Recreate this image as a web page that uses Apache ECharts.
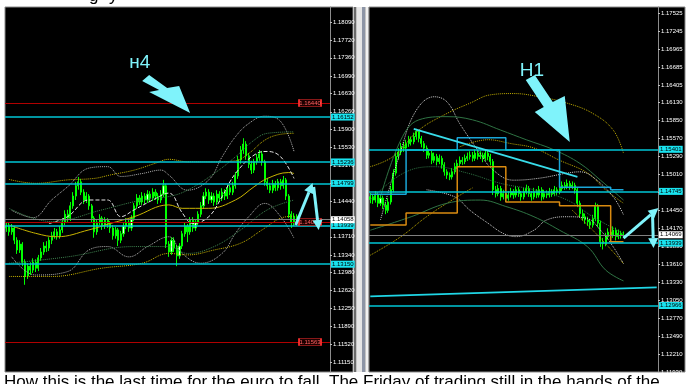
<!DOCTYPE html>
<html><head><meta charset="utf-8">
<script src="https://cdn.jsdelivr.net/npm/echarts@6/dist/echarts.min.js"></script>
<style>html,body{margin:0;padding:0;background:#fff}#c{width:689px;height:384px}</style>
</head><body><div id="c"></div>
<script>
// ================= H4 panel (left) =================
const h4Ticks = [1.18090,1.17720,1.17360,1.16990,1.16630,1.16260,1.15900,1.15530,1.15170,1.14800,1.14440,1.14070,1.13710,1.13340,1.12980,1.12620,1.12250,1.11890,1.11520,1.11150];
const h4Min = 1.10951, h4Max = 1.18397;
const h4Open0 = 1.1389;
const h4Close = [1.1393,1.1381,1.1389,1.1364,1.1344,1.1356,1.1319,1.1291,1.1311,1.1303,
 1.1319,1.1307,1.1328,1.1340,1.1352,1.1348,1.1364,1.1373,1.1381,1.1373,
 1.1385,1.1401,1.1417,1.1409,1.1434,1.1454,1.1475,1.1483,1.1462,1.1446,
 1.1454,1.1434,1.1409,1.1381,1.1401,1.1409,1.1393,1.1405,1.1397,1.1389,
 1.1373,1.1385,1.1364,1.1377,1.1393,1.1401,1.1389,1.1409,1.1434,1.1450,
 1.1442,1.1454,1.1446,1.1458,1.1450,1.1462,1.1454,1.1446,1.1458,1.1475,
 1.1356,1.1340,1.1364,1.1348,1.1332,1.1352,1.1377,1.1393,1.1381,1.1405,
 1.1389,1.1401,1.1417,1.1434,1.1454,1.1462,1.1446,1.1454,1.1442,1.1458,
 1.1450,1.1462,1.1454,1.1471,1.1462,1.1475,1.1495,1.1528,1.1548,1.1560,
 1.1536,1.1519,1.1507,1.1524,1.1532,1.1540,1.1524,1.1483,1.1475,1.1466,
 1.1479,1.1471,1.1483,1.1475,1.1487,1.1454,1.1417,1.1401,1.1413,1.1407];
const h4High = [1.1401,1.1399,1.1397,1.1393,1.1370,1.1364,1.1360,1.1325,1.1317,1.1319,
 1.1327,1.1325,1.1334,1.1348,1.1360,1.1362,1.1370,1.1381,1.1389,1.1387,
 1.1393,1.1409,1.1425,1.1426,1.1442,1.1462,1.1483,1.1493,1.1489,1.1468,
 1.1462,1.1458,1.1438,1.1413,1.1407,1.1417,1.1413,1.1411,1.1409,1.1403,
 1.1395,1.1391,1.1389,1.1383,1.1399,1.1409,1.1405,1.1415,1.1440,1.1458,
 1.1456,1.1462,1.1460,1.1466,1.1464,1.1470,1.1468,1.1460,1.1466,1.1487,
 1.1479,1.1362,1.1370,1.1370,1.1354,1.1358,1.1383,1.1399,1.1397,1.1411,
 1.1411,1.1407,1.1423,1.1442,1.1462,1.1470,1.1468,1.1462,1.1460,1.1466,
 1.1464,1.1470,1.1468,1.1477,1.1477,1.1483,1.1503,1.1536,1.1556,1.1572,
 1.1566,1.1542,1.1526,1.1530,1.1540,1.1548,1.1546,1.1528,1.1491,1.1481,
 1.1487,1.1485,1.1489,1.1489,1.1495,1.1491,1.1458,1.1423,1.1419,1.1417];
const h4Low = [1.1381,1.1373,1.1375,1.1356,1.1336,1.1338,1.1311,1.1273,1.1285,1.1293,
 1.1297,1.1299,1.1301,1.1322,1.1334,1.1340,1.1342,1.1356,1.1367,1.1365,
 1.1367,1.1379,1.1395,1.1399,1.1403,1.1428,1.1446,1.1467,1.1456,1.1438,
 1.1440,1.1426,1.1401,1.1369,1.1375,1.1395,1.1385,1.1387,1.1389,1.1379,
 1.1365,1.1367,1.1352,1.1358,1.1371,1.1387,1.1381,1.1383,1.1403,1.1428,
 1.1436,1.1436,1.1438,1.1440,1.1442,1.1444,1.1446,1.1438,1.1440,1.1452,
 1.1348,1.1330,1.1334,1.1340,1.1311,1.1326,1.1346,1.1371,1.1360,1.1375,
 1.1381,1.1383,1.1395,1.1411,1.1428,1.1448,1.1438,1.1440,1.1434,1.1436,
 1.1442,1.1444,1.1446,1.1448,1.1456,1.1456,1.1469,1.1489,1.1520,1.1540,
 1.1528,1.1511,1.1499,1.1501,1.1518,1.1526,1.1516,1.1475,1.1467,1.1460,
 1.1460,1.1464,1.1465,1.1467,1.1469,1.1446,1.1409,1.1389,1.1393,1.1399];
const h4CategoryCount = 122;
const h4Cyan = [1.16152,1.15236,1.14799,1.13939,1.13150];
const h4Red = [1.16440,1.14010,1.11563];
const h4Last = 1.14058;
// indicator envelopes [index, price]
const h4BandUpY = [[1,1.1488],[11,1.1480],[23,1.1487],[33,1.1490],[39,1.1497],[48,1.1507],[56,1.1521],[61,1.1529],[68,1.1524],[78,1.1524],[86,1.1526],[91,1.1541],[97,1.1568],[102,1.1579],[108,1.1582]];
const h4MidY = [[1,1.1395],[11,1.1378],[19,1.1371],[31,1.1385],[39,1.1398],[48,1.1412],[61,1.1436],[66,1.1429],[76,1.1429],[86,1.1446],[93,1.1473],[98,1.1490],[106,1.1502],[108,1.1500]];
const h4BandLowY = [[1,1.1290],[17,1.1290],[36,1.1307],[51,1.1317],[61,1.1337],[68,1.1334],[78,1.1344],[88,1.1358],[96,1.1385],[103,1.1409],[108,1.1413]];
const h4BandUpG = [[2,1.1425],[10,1.1410],[17,1.1446],[23,1.1473],[31,1.1511],[38,1.1514],[43,1.1494],[51,1.1500],[58,1.1507],[61,1.1497],[68,1.1466],[76,1.1487],[81,1.1534],[86,1.1575],[91,1.1602],[97,1.1617],[103,1.1606],[108,1.1545]];
const h4BandLowG = [[2,1.1330],[11,1.1293],[23,1.1300],[31,1.1344],[38,1.1351],[46,1.1330],[53,1.1351],[61,1.1371],[66,1.1337],[73,1.1317],[81,1.1337],[86,1.1378],[91,1.1412],[97,1.1439],[103,1.1412],[108,1.1368]];
const h4MidW = [[16,1.1398],[23,1.1412],[31,1.1446],[38,1.1446],[43,1.1412],[48,1.1426],[55,1.1446],[61,1.1460],[66,1.1420],[70,1.1398],[76,1.1412],[81,1.1453],[86,1.1500],[94,1.1541],[98,1.1545],[103,1.1534],[108,1.1490]];
const h4BandUpD = [[1,1.1429],[17,1.1402],[36,1.1426],[51,1.1446],[61,1.1453],[68,1.1466],[78,1.1500],[86,1.1534],[93,1.1568],[98,1.1582],[108,1.1585]];
const h4BandLowD = [[1,1.1317],[23,1.1330],[48,1.1351],[61,1.1351],[68,1.1337],[78,1.1351],[88,1.1385],[98,1.1426],[108,1.1446]];

// ================= H1 panel (right) =================
const h1Ticks = [1.17525,1.17245,1.16965,1.16685,1.16405,1.16130,1.15850,1.15570,1.15290,1.15010,1.14730,1.14450,1.14170,1.13890,1.13610,1.13330,1.13050,1.12770,1.12490,1.12210,1.11930];
const h1Min = 1.11930, h1Max = 1.17619;
const h1Open0 = 1.1462;
const h1Close = [1.1466,1.1461,1.1469,1.1456,1.1464,1.1453,1.1445,1.1458,1.1477,1.1503,
 1.1529,1.1536,1.1544,1.1542,1.1549,1.1555,1.1552,1.1560,1.1568,1.1557,
 1.1549,1.1542,1.1531,1.1534,1.1523,1.1529,1.1521,1.1526,1.1516,1.1505,
 1.1500,1.1497,1.1505,1.1513,1.1518,1.1523,1.1521,1.1526,1.1529,1.1531,
 1.1526,1.1534,1.1529,1.1531,1.1526,1.1534,1.1529,1.1521,1.1477,1.1471,
 1.1479,1.1466,1.1471,1.1464,1.1469,1.1474,1.1469,1.1477,1.1471,1.1466,
 1.1474,1.1479,1.1471,1.1466,1.1474,1.1469,1.1477,1.1466,1.1471,1.1469,
 1.1474,1.1471,1.1477,1.1474,1.1479,1.1484,1.1482,1.1487,1.1482,1.1484,
 1.1477,1.1456,1.1440,1.1435,1.1430,1.1427,1.1422,1.1432,1.1451,1.1425,
 1.1396,1.1393,1.1404,1.1411,1.1406,1.1414,1.1404,1.1409,1.1406,1.1407];
const h1High = [1.1472,1.1470,1.1475,1.1473,1.1470,1.1468,1.1457,1.1464,1.1483,1.1509,
 1.1535,1.1542,1.1550,1.1551,1.1555,1.1561,1.1560,1.1566,1.1572,1.1570,
 1.1561,1.1553,1.1546,1.1540,1.1538,1.1535,1.1533,1.1532,1.1530,1.1520,
 1.1509,1.1504,1.1511,1.1519,1.1524,1.1529,1.1528,1.1532,1.1535,1.1537,
 1.1536,1.1540,1.1539,1.1537,1.1535,1.1540,1.1538,1.1533,1.1525,1.1483,
 1.1485,1.1483,1.1477,1.1475,1.1475,1.1480,1.1478,1.1483,1.1481,1.1475,
 1.1480,1.1485,1.1483,1.1475,1.1480,1.1478,1.1483,1.1481,1.1477,1.1476,
 1.1480,1.1478,1.1483,1.1481,1.1485,1.1490,1.1489,1.1493,1.1491,1.1490,
 1.1488,1.1481,1.1460,1.1446,1.1440,1.1435,1.1431,1.1438,1.1457,1.1455,
 1.1429,1.1402,1.1410,1.1417,1.1415,1.1420,1.1418,1.1415,1.1413,1.1412];
const h1Low = [1.1456,1.1455,1.1457,1.1450,1.1452,1.1447,1.1439,1.1441,1.1454,1.1473,
 1.1499,1.1524,1.1531,1.1536,1.1537,1.1544,1.1546,1.1548,1.1555,1.1551,
 1.1543,1.1536,1.1525,1.1526,1.1517,1.1519,1.1515,1.1517,1.1510,1.1499,
 1.1494,1.1492,1.1493,1.1501,1.1509,1.1514,1.1516,1.1517,1.1522,1.1524,
 1.1521,1.1522,1.1524,1.1525,1.1520,1.1522,1.1523,1.1515,1.1469,1.1465,
 1.1467,1.1460,1.1462,1.1458,1.1460,1.1465,1.1463,1.1465,1.1466,1.1460,
 1.1462,1.1470,1.1466,1.1460,1.1462,1.1464,1.1465,1.1460,1.1462,1.1464,
 1.1465,1.1466,1.1467,1.1469,1.1470,1.1475,1.1477,1.1478,1.1477,1.1478,
 1.1471,1.1450,1.1434,1.1429,1.1424,1.1421,1.1416,1.1418,1.1428,1.1419,
 1.1388,1.1384,1.1389,1.1400,1.1400,1.1402,1.1398,1.1400,1.1401,1.1402];
const h1CategoryCount = 113;
const h1Cyan = [1.15401,1.14745,1.13939,1.12966];
const h1Last = 1.14069;
const h1ArcY = [[0,1.1513],[9,1.1529],[19,1.1570],[30,1.1596],[39,1.1612],[47,1.1625],[56,1.1627],[66,1.1622],[77,1.1612],[87,1.1596],[95,1.1570],[99,1.1534]];
const h1LowY = [[0,1.1375],[12,1.1404],[22,1.1435],[34,1.1466],[40,1.1480]];
const h1MidY = [[35,1.1544],[46,1.1555],[55,1.1549],[64,1.1542],[74,1.1523],[85,1.1503],[92,1.1477],[99,1.1456]];
const h1LowY2 = [[79,1.1445],[87,1.1414],[95,1.1380],[99,1.1362]];
const h1UpW = [[4,1.1430],[12,1.1539],[18,1.1601],[25,1.1622],[30,1.1614],[35,1.1580],[42,1.1539],[48,1.1508],[56,1.1492],[66,1.1495],[77,1.1503],[82,1.1505],[87,1.1497],[95,1.1466],[99,1.1438]];
const h1LowW = [[22,1.1477],[33,1.1466],[39,1.1445],[46,1.1425],[52,1.1409],[57,1.1404],[64,1.1414],[69,1.1430],[77,1.1435],[85,1.1432],[90,1.1414],[95,1.1388],[99,1.1362]];
const h1UpD = [[4,1.1466],[12,1.1555],[19,1.1586],[30,1.1591],[40,1.1586],[51,1.1570],[61,1.1555],[72,1.1539],[82,1.1518],[90,1.1492],[99,1.1461]];
const h1LowD = [[0,1.1414],[16,1.1435],[30,1.1456],[43,1.1461],[53,1.1451],[64,1.1435],[74,1.1414],[85,1.1388],[92,1.1352],[99,1.1335]];
const h1MidD = [[0,1.1461],[13,1.1503],[25,1.1513],[38,1.1503],[51,1.1487],[64,1.1477],[77,1.1461],[87,1.1435],[99,1.1409]];
const h1StepBlue = [[0,1.1470],[14,1.1539],[34,1.1558],[53,1.1539],[74,1.1481],[94,1.1477],[99,1.1477]];
const h1StepOrange = [[0,1.1422],[14,1.1441],[34,1.1513],[53,1.1458],[74,1.1452],[94,1.1396],[99,1.1396]];
const h1Trend = [[17,1.1572],[81,1.1497]];
const h1Channel = [[0,1.1311],[112,1.1325]];

// annotation anchors (data coordinates)
const h4ArrowTip = [69, 1.16235];
const h1ArrowTip = [78, 1.15514];
const h4ZigTop = [115, 1.14807];
const h1ZigStart = [99, 1.14018];
const h4Title = 'н4', h1Title = 'H1';
const captionText = 'How this is the last time for the euro to fall. The Friday of trading still in the hands of the';

// ================= build =================
const FONT = 'Liberation Sans';
function ohlc(open0, close, high, low) {
  return close.map((c, i) => { const o = i === 0 ? open0 : close[i-1]; return [o, c, low[i], high[i]]; });
}
function cats(n) { return Array.from({length: n}, (_, i) => String(i)); }
function yAx(g, min, max, ticks) {
  return {type: 'value', gridIndex: g, position: 'right', min: min, max: max,
    axisLine: {show: true, lineStyle: {color: '#8c8c8c', width: 1}},
    axisTick: {show: true, length: 2, customValues: ticks, lineStyle: {color: '#c0c0c0'}},
    axisLabel: {show: true, customValues: ticks, formatter: v => v.toFixed(5), color: '#ffffff', fontSize: 6, fontFamily: FONT, margin: 3},
    splitLine: {show: false}};
}
function boxLine(v, lineColor, bg, fg, w) {
  return {yAxis: v, lineStyle: {color: lineColor, width: w || 1.5, type: 'solid'},
    label: {show: true, position: 'end', distance: 1, formatter: v.toFixed(5), backgroundColor: bg, color: fg,
      fontSize: 6, fontFamily: FONT, padding: [1, 1, 0, 1]}};
}
function ind(g, data, color, type, width) {
  return {type: 'line', xAxisIndex: g, yAxisIndex: g, data: data, smooth: 0.4, symbol: 'none', silent: true, z: 4,
    lineStyle: {color: color, type: type, width: width || 1}};
}
const candleStyle = {color: '#eaffea', color0: '#00e000', borderColor: '#00ff00', borderColor0: '#00ff00', borderWidth: 1};
const CY = '#00c6d6', CYBOX = '#19e3ef';

const h4MarkLines = [
  ...h4Red.map(v => ({yAxis: v, lineStyle: {color: '#b00000', width: 1.2, type: 'solid'}, label: {show: false}})),
  ...h4Cyan.map(v => boxLine(v, CY, CYBOX, '#000')),
  boxLine(h4Last, '#808080', '#ffffff', '#000', 1)
];
const h4RedBoxes = h4Red.map(v => ({coord: [114, v], symbol: 'rect', symbolSize: [22, 7],
  itemStyle: {color: '#1c0000', borderColor: '#ff3030', borderWidth: 1},
  label: {show: true, position: 'inside', formatter: v.toFixed(5), color: '#ff6060', fontSize: 6, fontFamily: FONT}}));
const h1MarkLines = [
  ...h1Cyan.map(v => boxLine(v, CY, CYBOX, '#000')),
  boxLine(h1Last, '#808080', '#ffffff', '#000', 1)
];

const option = {
  animation: false,
  backgroundColor: '#ffffff',
  grid: [
    {left: 5, top: 7, width: 325, height: 365, show: false, outerBoundsMode: 'none'},
    {left: 369, top: 7, width: 289, height: 365, show: false, outerBoundsMode: 'none'}
  ],
  xAxis: [
    {type: 'category', gridIndex: 0, data: cats(h4CategoryCount), show: false, boundaryGap: true},
    {type: 'category', gridIndex: 1, data: cats(h1CategoryCount), show: false, boundaryGap: true}
  ],
  yAxis: [yAx(0, h4Min, h4Max, h4Ticks), yAx(1, h1Min, h1Max, h1Ticks)],
  series: [
    {type: 'candlestick', xAxisIndex: 0, yAxisIndex: 0, data: ohlc(h4Open0, h4Close, h4High, h4Low), barWidth: '60%',
      itemStyle: candleStyle, z: 3, silent: true,
      markLine: {symbol: ['none', 'none'], precision: 6, silent: true, animation: false, data: h4MarkLines},
      markPoint: {silent: true, animation: false, data: h4RedBoxes}},
    ind(0, h4BandUpY, '#c8b400', 'dotted'),
    ind(0, h4MidY, '#c8b400', 'solid'),
    ind(0, h4BandLowY, '#c8b400', 'dotted'),
    ind(0, h4BandUpG, '#b4b4b4', 'dotted'),
    ind(0, h4BandLowG, '#b4b4b4', 'dotted'),
    ind(0, h4MidW, '#e6e6e6', 'dashed'),
    ind(0, h4BandUpD, '#3f8450', 'dotted'),
    ind(0, h4BandLowD, '#3f8450', 'dotted'),

    {type: 'candlestick', xAxisIndex: 1, yAxisIndex: 1, data: ohlc(h1Open0, h1Close, h1High, h1Low), barWidth: '60%',
      itemStyle: candleStyle, z: 3, silent: true,
      markLine: {symbol: ['none', 'none'], precision: 6, silent: true, animation: false, data: h1MarkLines}},
    ind(1, h1ArcY, '#c0ac00', 'dotted'),
    ind(1, h1LowY, '#c0ac00', 'dotted'),
    ind(1, h1MidY, '#c0ac00', 'dotted'),
    ind(1, h1LowY2, '#c0ac00', 'dotted'),
    ind(1, h1UpW, '#cfcfcf', 'dotted'),
    ind(1, h1LowW, '#cfcfcf', 'dotted'),
    ind(1, h1UpD, '#2f7444', 'solid'),
    ind(1, h1LowD, '#2f7444', 'solid'),
    ind(1, h1MidD, '#2f7444', 'dotted'),
    {type: 'line', xAxisIndex: 1, yAxisIndex: 1, data: h1StepBlue, step: 'end', symbol: 'none', silent: true, z: 4,
      lineStyle: {color: '#1aa6d8', width: 1.5}},
    {type: 'line', xAxisIndex: 1, yAxisIndex: 1, data: h1StepOrange, step: 'end', symbol: 'none', silent: true, z: 4,
      lineStyle: {color: '#d98a10', width: 1.5}},
    {type: 'line', xAxisIndex: 1, yAxisIndex: 1, data: h1Trend, symbol: 'none', silent: true, z: 5,
      lineStyle: {color: '#38dcea', width: 1.8}},
    {type: 'line', xAxisIndex: 1, yAxisIndex: 1, data: h1Channel, symbol: 'none', silent: true, z: 5,
      lineStyle: {color: '#1fd6e6', width: 1.8}}
  ]
};

const chart = echarts.init(document.getElementById('c'), null, {renderer: 'canvas'});
chart.setOption(option);

// ---- frame / decoration graphics ----
const ARROW = '#7ff3fb';
const bg = [
  {type: 'rect', z: -10, shape: {x: 5, y: 7, width: 348, height: 365}, style: {fill: '#000', stroke: '#8a8a8a', lineWidth: 1}},
  {type: 'rect', z: -10, shape: {x: 353, y: 7, width: 16, height: 365}, style: {fill: '#c4c4c4'}},
  {type: 'rect', z: -9, shape: {x: 354, y: 7, width: 2, height: 365}, style: {fill: '#6a6a6a'}},
  {type: 'rect', z: -9, shape: {x: 357, y: 7, width: 5, height: 365}, style: {fill: '#e6e6e6'}},
  {type: 'rect', z: -9, shape: {x: 362, y: 7, width: 3, height: 365}, style: {fill: '#8d95a6'}},
  {type: 'rect', z: -9, shape: {x: 366, y: 7, width: 2, height: 365}, style: {fill: '#f2f2f2'}},
  {type: 'rect', z: -10, shape: {x: 369, y: 7, width: 316, height: 365}, style: {fill: '#000', stroke: '#8a8a8a', lineWidth: 1}},
  {type: 'rect', z: 40, shape: {x: 0, y: 373, width: 689, height: 11}, style: {fill: '#fff'}},
  {type: 'rect', z: 40, shape: {x: 0, y: 0, width: 689, height: 6}, style: {fill: '#fff'}}
];

function P(g, pt) { return chart.convertToPixel({gridIndex: g}, pt); }
function rel(a, pts) { return pts.map(p => [a[0] + p[0], a[1] + p[1]]); }
function head(from, to, len, half) {
  const dx = to[0] - from[0], dy = to[1] - from[1], L = Math.hypot(dx, dy);
  const ux = dx / L, uy = dy / L, bx = to[0] - ux * len, by = to[1] - uy * len;
  return {tri: [[to[0], to[1]], [bx - uy * half, by + ux * half], [bx + uy * half, by - ux * half]], base: [bx, by]};
}
function arrowLine(from, to) {
  const h = head(from, to, 10, 5);
  return [
    {type: 'polyline', z: 50, shape: {points: [from, h.base]}, style: {stroke: ARROW, lineWidth: 3, fill: null}},
    {type: 'polygon', z: 50, shape: {points: h.tri}, style: {fill: ARROW}}
  ];
}

const tipL = P(0, h4ArrowTip), tipR = P(1, h1ArrowTip);
const zL = P(0, h4ZigTop), zR = P(1, h1ZigStart);
const overlays = [
  {type: 'polygon', z: 50, shape: {points: rel(tipL, [[-48,-32],[-41,-38],[-23,-25],[-11,-27],[0,0],[-41,-21],[-31,-23]])}, style: {fill: ARROW}},
  {type: 'polygon', z: 50, shape: {points: rel(tipR, [[-44,-62],[-35,-67],[-17,-40],[-5,-46],[0,0],[-35,-30],[-26,-35]])}, style: {fill: ARROW}},
  {type: 'text', z: 50, x: tipL[0] - 61, y: tipL[1] - 60, style: {text: h4Title, fill: ARROW, font: '19px "' + FONT + '"', verticalAlign: 'top'}},
  {type: 'text', z: 50, x: tipR[0] - 50, y: tipR[1] - 81, style: {text: h1Title, fill: ARROW, font: '19px "' + FONT + '"', verticalAlign: 'top'}},
  ...arrowLine(rel(zL, [[-17, 42]])[0], zL),
  ...arrowLine(rel(zL, [[1, 4]])[0], rel(zL, [[6, 47]])[0]),
  ...arrowLine(zR, rel(zR, [[35, -30]])[0]),
  ...arrowLine(rel(zR, [[29, -25]])[0], rel(zR, [[30, 10]])[0]),
  {type: 'text', z: 60, x: 4, y: 374, style: {text: captionText, fill: '#000', font: '17px "' + FONT + '"', verticalAlign: 'top'}},
  {type: 'text', z: 60, x: 89, y: 5, style: {text: 'g', fill: '#000', font: '17px "' + FONT + '"', verticalAlign: 'bottom'}},
  {type: 'text', z: 60, x: 109, y: 5, style: {text: 'y', fill: '#000', font: '17px "' + FONT + '"', verticalAlign: 'bottom'}}
];
chart.setOption({graphic: {elements: bg.concat(overlays)}});
</script>
</body></html>
